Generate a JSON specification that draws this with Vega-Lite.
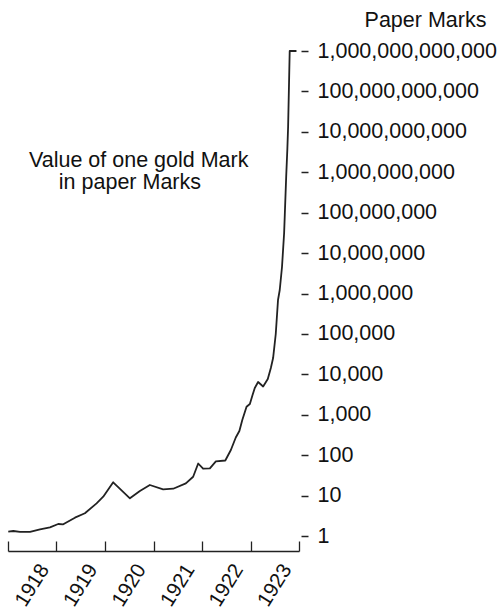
{
  "$schema": "https://vega.github.io/schema/vega-lite/v6.json",
  "autosize": "none",
  "width": 291,
  "height": 500,
  "padding": {"left": 8, "top": 51, "right": 201, "bottom": 59},
  "background": "white",
  "config": {"view": {"stroke": null}, "font": "Liberation Sans"},
  "datasets": {
    "gold": [
      {"date": "1918-01-03", "value": 1.28},
      {"date": "1918-02-10", "value": 1.33},
      {"date": "1918-04-01", "value": 1.26},
      {"date": "1918-06-16", "value": 1.26},
      {"date": "1918-08-30", "value": 1.46},
      {"date": "1918-11-13", "value": 1.64},
      {"date": "1919-01-14", "value": 1.98},
      {"date": "1919-02-21", "value": 1.95},
      {"date": "1919-05-20", "value": 2.84},
      {"date": "1919-08-03", "value": 3.65},
      {"date": "1919-10-30", "value": 6.44},
      {"date": "1919-12-19", "value": 9.38},
      {"date": "1920-03-03", "value": 21.3},
      {"date": "1920-07-07", "value": 8.57},
      {"date": "1920-09-20", "value": 13.0},
      {"date": "1920-12-04", "value": 18.3},
      {"date": "1921-03-14", "value": 14.3},
      {"date": "1921-05-29", "value": 14.8},
      {"date": "1921-09-01", "value": 20.1},
      {"date": "1921-10-26", "value": 29.3},
      {"date": "1921-12-03", "value": 62.2},
      {"date": "1922-01-09", "value": 46.2},
      {"date": "1922-03-01", "value": 47.3},
      {"date": "1922-04-15", "value": 70.5},
      {"date": "1922-06-25", "value": 73.8},
      {"date": "1922-08-06", "value": 134},
      {"date": "1922-09-12", "value": 273},
      {"date": "1922-10-09", "value": 396},
      {"date": "1922-10-31", "value": 741},
      {"date": "1922-12-02", "value": 1581},
      {"date": "1922-12-27", "value": 1845},
      {"date": "1923-01-14", "value": 2910},
      {"date": "1923-02-02", "value": 4590},
      {"date": "1923-02-27", "value": 6460},
      {"date": "1923-04-06", "value": 5000},
      {"date": "1923-05-11", "value": 7660},
      {"date": "1923-06-03", "value": 14300},
      {"date": "1923-06-20", "value": 25300},
      {"date": "1923-07-10", "value": 99500},
      {"date": "1923-07-27", "value": 690000},
      {"date": "1923-08-09", "value": 1220000},
      {"date": "1923-08-26", "value": 4520000},
      {"date": "1923-09-11", "value": 31300000},
      {"date": "1923-09-16", "value": 87500000},
      {"date": "1923-09-27", "value": 853000000},
      {"date": "1923-10-05", "value": 3550000000},
      {"date": "1923-10-11", "value": 13400000000},
      {"date": "1923-10-16", "value": 81000000000},
      {"date": "1923-10-20", "value": 340000000000},
      {"date": "1923-10-23", "value": 1000000000000},
      {"date": "1923-12-13", "value": 1000000000000}
    ],
    "notes": [
      {"date": "1920-09-11", "value": 1370000000, "label": "Value of one gold Mark"},
      {"date": "1920-07-07", "value": 378000000, "label": "in paper Marks"}
    ]
  },
  "layer": [
    {
      "data": {"name": "gold"},
      "mark": {"type": "line", "color": "#222", "strokeWidth": 1.8, "strokeJoin": "round"},
      "encoding": {
        "x": {
          "field": "date",
          "type": "temporal",
          "scale": {
            "type": "utc",
            "domain": [
              {"year": 1918, "month": 1, "date": 1, "utc": true},
              {"year": 1924, "month": 1, "date": 1, "utc": true}
            ]
          },
          "axis": {
            "title": null,
            "values": [
              {"year": 1918, "month": 1, "date": 1, "utc": true},
              {"year": 1919, "month": 1, "date": 1, "utc": true},
              {"year": 1920, "month": 1, "date": 1, "utc": true},
              {"year": 1921, "month": 1, "date": 1, "utc": true},
              {"year": 1922, "month": 1, "date": 1, "utc": true},
              {"year": 1923, "month": 1, "date": 1, "utc": true},
              {"year": 1924, "month": 1, "date": 1, "utc": true}
            ],
            "labelExpr": "utcyear(datum.value) < 1924 ? utcFormat(datum.value, '%Y') : ''",
            "grid": false,
            "domainColor": "#222",
            "domainWidth": 1.3,
            "tickColor": "#222",
            "tickWidth": 1.3,
            "tickSize": -10,
            "labelAngle": -58,
            "labelAlign": "center",
            "labelBaseline": "middle",
            "labelOffset": 24,
            "labelPadding": 44,
            "labelFontSize": 20.5,
            "labelColor": "#111",
            "labelFlush": false,
            "labelOverlap": false,
            "labelBound": false
          }
        },
        "y": {
          "field": "value",
          "type": "quantitative",
          "scale": {"type": "log", "domain": [0.4256, 1000000000000], "nice": false},
          "axis": {
            "orient": "right",
            "title": "Paper Marks",
            "titleAngle": 0,
            "titleAlign": "center",
            "titleBaseline": "alphabetic",
            "titleX": 124,
            "titleY": -25,
            "titleFontSize": 21.5,
            "titleFontWeight": "normal",
            "titleColor": "#111",
            "values": [1, 10, 100, 1000, 10000, 100000, 1000000, 10000000, 100000000, 1000000000, 10000000000, 100000000000, 1000000000000],
            "format": ",.0f",
            "grid": false,
            "domain": false,
            "offset": 2,
            "tickSize": 7,
            "tickWidth": 1.5,
            "tickColor": "#222",
            "labelPadding": 9,
            "labelFontSize": 21.5,
            "labelColor": "#111",
            "labelFlush": false,
            "labelOverlap": false,
            "labelBound": false
          }
        }
      }
    },
    {
      "data": {"name": "notes"},
      "mark": {"type": "text", "fontSize": 21.5, "color": "#111", "align": "center", "baseline": "alphabetic"},
      "encoding": {
        "x": {"field": "date", "type": "temporal"},
        "y": {"field": "value", "type": "quantitative"},
        "text": {"field": "label"}
      }
    }
  ]
}
